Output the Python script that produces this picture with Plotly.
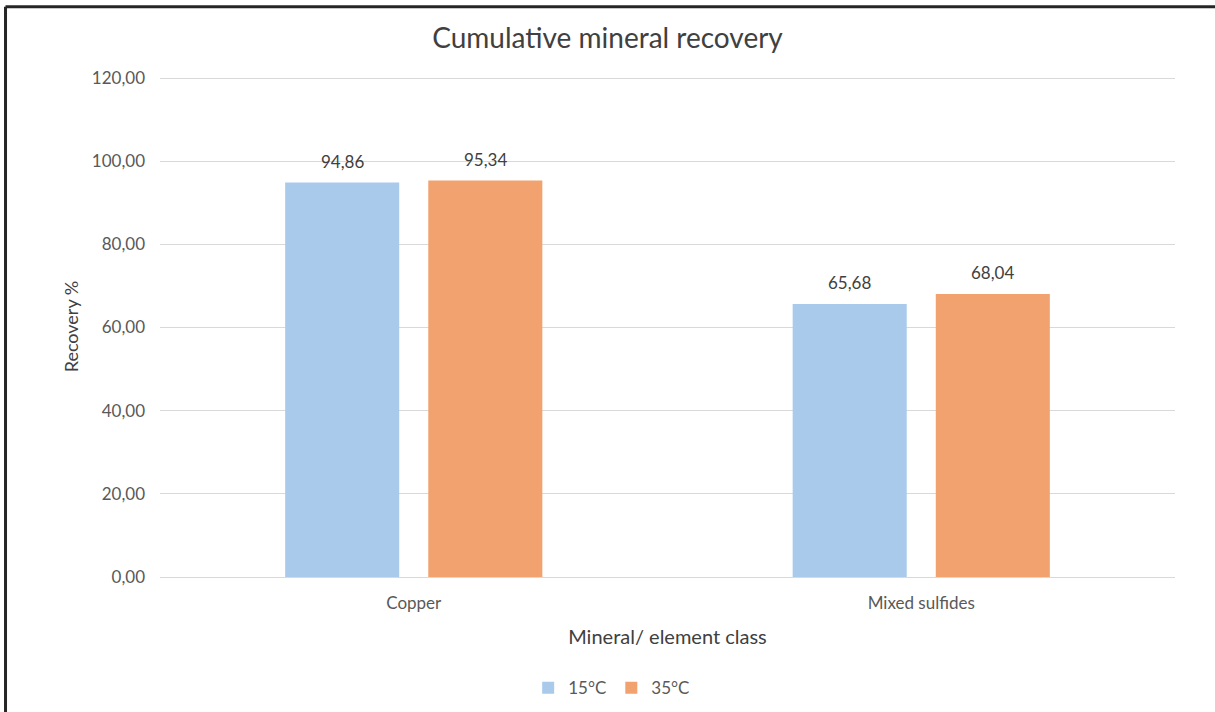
import plotly.graph_objects as go

categories = ["Copper", "Mixed sulfides"]
recovery_15c = [94.86, 65.68]
recovery_35c = [95.34, 68.04]
series_names = ["15°C", "35°C"]
y_ticks = [0, 20, 40, 60, 80, 100, 120]

FONT = "Lato, 'Open Sans', sans-serif"
TEXT = "#404040"
TICK = "#595959"
COLORS = ["#A9CAEA", "#F2A26F"]

fig = go.Figure()
for name, values, color in zip(series_names, [recovery_15c, recovery_35c], COLORS):
    fig.add_trace(go.Bar(
        x=categories, y=values, name=name,
        marker=dict(color=color, line=dict(width=0)),
    ))

# value labels above each bar, offset to the bar's slot within its group
for i, values in enumerate([recovery_15c, recovery_35c]):
    for cat, v in zip(categories, values):
        fig.add_annotation(
            x=cat, y=v, xref="x", yref="y",
            text=f"{v:.2f}".replace(".", ","),
            showarrow=False, yanchor="bottom", yshift=9,
            xshift=(-71.5 if i == 0 else 71.5),
            font=dict(family=FONT, size=17, color=TEXT),
        )

# frame around the chart (top and left edges)
frame = dict(type="line", xref="paper", yref="paper",
             line=dict(color="#262626", width=3))
fig.add_shape(frame, x0=-0.1522, x1=1.05, y0=1.138, y1=1.138)
fig.add_shape(frame, x0=-0.1522, x1=-0.1522, y0=1.138, y1=-0.3)

fig.update_layout(
    width=1215, height=712,
    margin=dict(l=160, r=40, t=76, b=135, autoexpand=False),
    paper_bgcolor="white", plot_bgcolor="white",
    separators=",.",
    barmode="group", bargap=0.436, bargroupgap=0.203,
    font=dict(family=FONT, color=TEXT),
    title=dict(text="Cumulative mineral recovery", x=0.5, xanchor="center",
               y=0.947, yanchor="middle",
               font=dict(family=FONT, size=28, color=TEXT)),
    showlegend=True,
    legend=dict(orientation="h", x=0.445, xanchor="center", y=-0.222,
                yanchor="middle", font=dict(family=FONT, size=17, color=TICK),
                itemwidth=30, traceorder="normal"),
    xaxis=dict(
        automargin=False,
        showgrid=False, showline=True, linecolor="#D9D9D9", linewidth=1,
        ticks="", ticklabelstandoff=11,
        tickfont=dict(family=FONT, size=17, color=TICK),
        title=dict(text="Mineral/ element class", standoff=17,
                   font=dict(family=FONT, size=20, color=TEXT)),
    ),
    yaxis=dict(
        automargin=False,
        range=[0, 120.5], tickvals=y_ticks, tickformat=".2f",
        showgrid=True, gridcolor="#D9D9D9", gridwidth=1,
        zeroline=True, zerolinecolor="#D9D9D9", zerolinewidth=1,
        ticks="", ticklabelstandoff=14,
        tickfont=dict(family=FONT, size=17, color=TICK),
        title=dict(text="Recovery %", standoff=8,
                   font=dict(family=FONT, size=18, color=TEXT)),
    ),
)

fig.write_html("out.html")
